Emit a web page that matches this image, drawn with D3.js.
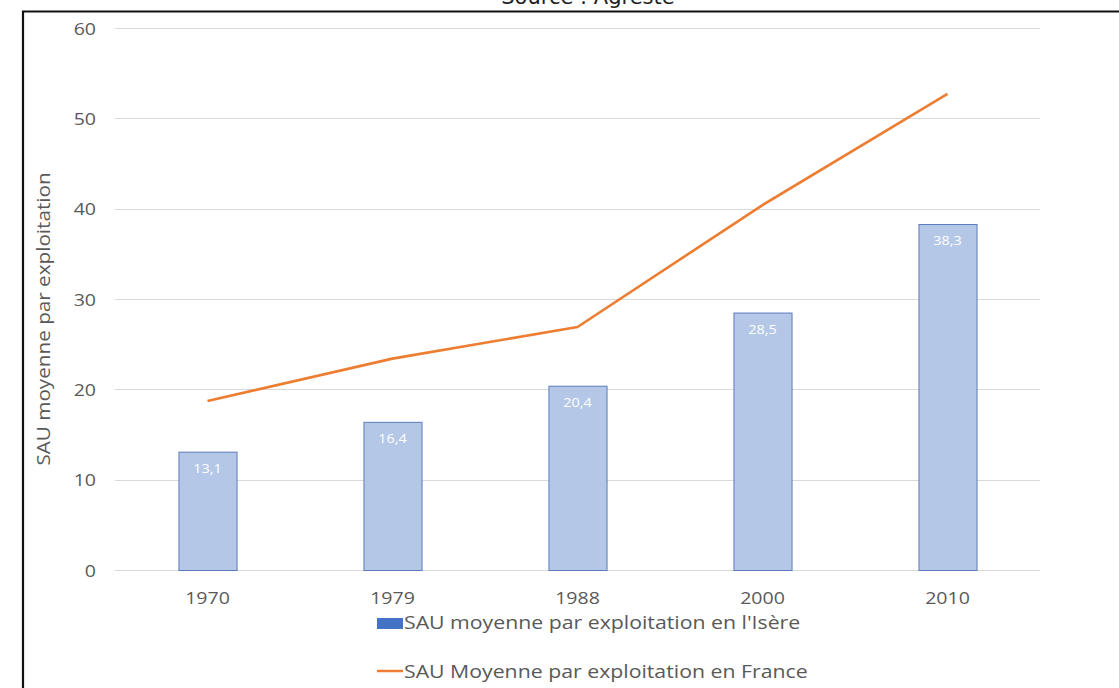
<!DOCTYPE html>
<html>
<head>
<meta charset="utf-8">
<script src="https://cdn.jsdelivr.net/npm/d3@7"></script>
<style>
  html, body { margin: 0; padding: 0; background: #fff; }
  svg { display: block; }
</style>
</head>
<body>
<svg id="chart" width="1119" height="688"></svg>
<script>
// Census years and average farm area (ha) per holding
const years = ["1970", "1979", "1988", "2000", "2010"];
const isereValues = [13.1, 16.4, 20.4, 28.5, 38.3];
const franceValues = [18.7, 23.4, 26.9, 40.4, 52.7];
const yTicks = [0, 10, 20, 30, 40, 50, 60];
const seriesNames = ["SAU moyenne par exploitation en l'Isère", "SAU Moyenne par exploitation en France"];
const yTitle = "SAU moyenne par exploitation";
const sourceText = "Source : Agreste";

const svg = d3.select("#chart");
const font = "'Open Sans', 'Noto Sans', sans-serif";
const grey = "#595959";
const widen = 1.15; // horizontal stretch applied to the text

const x = d3.scaleBand().domain(years).range([115, 1040]).paddingInner(0.686).paddingOuter(0.343);
const y = d3.scaleLinear().domain([0, 60]).range([570, 28]);

// Place a text at (px, py) with a horizontal stretch
function stretchedText(sel, px, py, rot) {
  return sel.attr("x", 0).attr("y", 0)
    .attr("transform", `translate(${px},${py})` + (rot ? ` rotate(${rot})` : "") + ` scale(${widen},1)`);
}

// Frame around the figure (continues past the right and bottom edges)
svg.append("path")
  .attr("d", "M23,700 L23,11.5 L1130,11.5")
  .attr("fill", "none").attr("stroke", "#111").attr("stroke-width", 2.2);

// Source caption, partly above the frame
svg.append("text")
  .attr("x", 588).attr("y", 4)
  .attr("text-anchor", "middle")
  .attr("font-family", "'DejaVu Sans', sans-serif").attr("font-size", 21)
  .attr("fill", "#222")
  .text(sourceText);

// Horizontal gridlines
svg.append("g").selectAll("line").data(yTicks).join("line")
  .attr("x1", 115).attr("x2", 1040)
  .attr("y1", d => Math.round(y(d)) + 0.5).attr("y2", d => Math.round(y(d)) + 0.5)
  .attr("stroke", "#d9d9d9").attr("stroke-width", 1);

// Y axis labels
const yAxis = d3.axisLeft(y).tickValues(yTicks).tickSize(0).tickPadding(0);
const gy = svg.append("g").attr("transform", "translate(96,0)").call(yAxis);
gy.select(".domain").remove();
gy.selectAll("text").attr("font-family", font).attr("font-size", 17).attr("fill", grey)
  .attr("dy", "0.36em").attr("transform", `scale(${widen},1)`)
  .attr("x", 0);

// X axis labels
const xAxis = d3.axisBottom(x).tickSize(0).tickPadding(0);
const gx = svg.append("g").attr("transform", "translate(0,592)").call(xAxis);
gx.select(".domain").remove();
gx.selectAll("text").attr("font-family", font).attr("font-size", 17).attr("fill", grey)
  .attr("transform", `scale(${widen},1)`);
gx.selectAll(".tick").each(function () {
  const t = d3.select(this);
  const tx = +t.attr("transform").match(/translate\(([-\d.]+)/)[1];
  t.attr("transform", `translate(${tx},0)`);
});

// Y axis title
stretchedText(svg.append("text"), 50, 319, -90)
  .attr("text-anchor", "middle")
  .attr("font-family", font).attr("font-size", 18).attr("fill", grey)
  .text(yTitle);

// Bars (Isère)
const data = years.map((yr, i) => ({ year: yr, isere: isereValues[i], france: franceValues[i] }));
svg.append("g").selectAll("rect").data(data).join("rect")
  .attr("x", d => x(d.year) + 0.5)
  .attr("y", d => y(d.isere) + 0.5)
  .attr("width", x.bandwidth())
  .attr("height", d => y(0) - y(d.isere))
  .attr("fill", "#b4c7e7")
  .attr("stroke", "#5b7cba").attr("stroke-width", 1);

// Bar value labels
svg.append("g").selectAll("text").data(data).join("text")
  .each(function (d) {
    stretchedText(d3.select(this), x(d.year) + x.bandwidth() / 2, y(d.isere) + 21);
  })
  .attr("text-anchor", "middle")
  .attr("font-family", font).attr("font-size", 12.5).attr("fill", "#fff")
  .text(d => d3.format(".1f")(d.isere).replace(".", ","));

// Line (France)
const line = d3.line().x(d => x(d.year) + x.bandwidth() / 2).y(d => y(d.france));
svg.append("path").datum(data)
  .attr("d", line)
  .attr("fill", "none").attr("stroke", "#ed7d31").attr("stroke-width", 2.6)
  .attr("stroke-linejoin", "round");

// Legend
const legend = svg.append("g");
legend.append("rect").attr("x", 377).attr("y", 618).attr("width", 26).attr("height", 11).attr("fill", "#4472c4");
stretchedText(legend.append("text"), 404, 629)
  .attr("font-family", font).attr("font-size", 18.5).attr("fill", grey).text(seriesNames[0]);
legend.append("line").attr("x1", 377).attr("x2", 403).attr("y1", 671).attr("y2", 671)
  .attr("stroke", "#ed7d31").attr("stroke-width", 2.5);
stretchedText(legend.append("text"), 404, 678)
  .attr("font-family", font).attr("font-size", 18.5).attr("fill", grey).text(seriesNames[1]);
</script>
</body>
</html>
